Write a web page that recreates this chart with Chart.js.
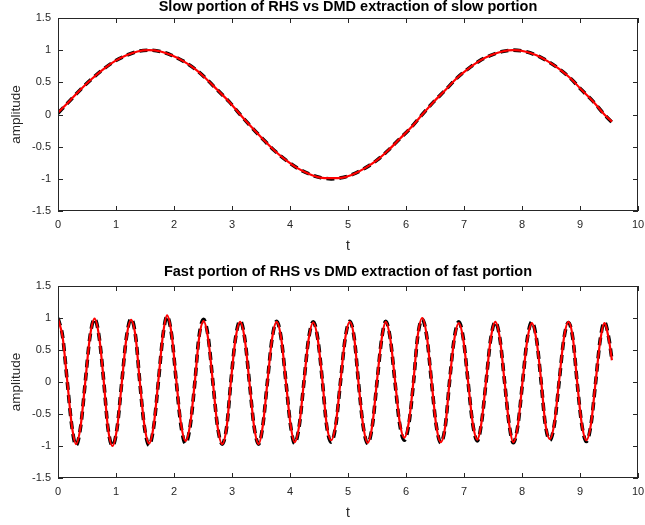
<!DOCTYPE html>
<html>
<head>
<meta charset="utf-8">
<script src="https://cdn.jsdelivr.net/npm/chart.js@4"></script>
<style>
  body { margin: 0; background: #fff; }
  #wrap { position: relative; width: 645px; height: 525px; }
  #wrap canvas { position: absolute; left: 0; }
</style>
</head>
<body>
<div id="wrap">
  <canvas id="slowChart" width="645" height="262" style="top:0"></canvas>
  <canvas id="fastChart" width="645" height="263" style="top:262px"></canvas>
</div>
<script>
// Waktu untuk bagian lambat
const tSlow = [0.00,0.20,0.39,0.59,0.79,0.98,1.18,1.37,1.57,1.77,1.96,2.16,2.36,2.55,2.75,2.95,3.14,3.34,3.53,3.73,
  3.93,4.12,4.32,4.52,4.71,4.91,5.11,5.30,5.50,5.69,5.89,6.09,6.28,6.48,6.68,6.87,7.07,7.26,7.46,7.66,
  7.85,8.05,8.25,8.44,8.64,8.84,9.03,9.23,9.42,9.55];

// RHS lambat (hitam putus-putus) dan hasil DMD (merah)
const slowTrue = [0.02,0.21,0.39,0.56,0.71,0.83,0.92,0.98,1.00,0.98,0.92,0.83,0.71,0.56,0.38,0.20,0.00,-0.20,-0.38,-0.56,
  -0.71,-0.83,-0.92,-0.98,-1.00,-0.98,-0.92,-0.83,-0.71,-0.56,-0.38,-0.20,0.00,0.20,0.38,0.56,0.71,0.83,0.92,0.98,
  1.00,0.98,0.92,0.83,0.71,0.56,0.38,0.20,0.00,-0.12];
const slowDmd = [0.03,0.21,0.39,0.56,0.71,0.83,0.92,0.98,1.00,0.98,0.92,0.83,0.71,0.56,0.38,0.20,0.00,-0.20,-0.38,-0.56,
  -0.71,-0.83,-0.92,-0.98,-0.99,-0.98,-0.92,-0.83,-0.71,-0.56,-0.38,-0.20,0.00,0.20,0.38,0.56,0.71,0.83,0.92,0.98,
  1.00,0.98,0.92,0.83,0.71,0.56,0.38,0.20,0.00,-0.11];

// Waktu untuk bagian cepat
const tFast = [0.00,0.08,0.16,0.24,0.31,0.39,0.47,0.55,0.63,0.71,0.79,0.86,0.94,1.02,1.10,1.18,1.26,1.34,1.41,1.49,
  1.57,1.65,1.73,1.81,1.88,1.96,2.04,2.12,2.20,2.28,2.36,2.43,2.51,2.59,2.67,2.75,2.83,2.91,2.98,3.06,
  3.14,3.22,3.30,3.38,3.46,3.53,3.61,3.69,3.77,3.85,3.93,4.01,4.08,4.16,4.24,4.32,4.40,4.48,4.56,4.63,
  4.71,4.79,4.87,4.95,5.03,5.11,5.18,5.26,5.34,5.42,5.50,5.58,5.65,5.73,5.81,5.89,5.97,6.05,6.13,6.20,
  6.28,6.36,6.44,6.52,6.60,6.68,6.75,6.83,6.91,6.99,7.07,7.15,7.23,7.30,7.38,7.46,7.54,7.62,7.70,7.78,
  7.85,7.93,8.01,8.09,8.17,8.25,8.33,8.40,8.48,8.56,8.64,8.72,8.80,8.88,8.95,9.03,9.11,9.19,9.27,9.35,
  9.42,9.50,9.55];

// RHS cepat (hitam putus-putus)
const fastTrue = [
  1.00,0.71,0.00,-0.70,-0.99,-0.70,0.00,0.70,
  0.99,0.70,0.00,-0.71,-1.00,-0.71,0.00,0.70,
  0.99,0.70,0.00,-0.70,-0.99,-0.70,0.00,0.73,
  1.03,0.73,0.00,-0.68,-0.96,-0.68,0.00,0.70,
  0.98,0.70,0.00,-0.69,-0.97,-0.69,0.00,0.68,
  0.96,0.68,0.00,-0.69,-0.97,-0.69,0.00,0.67,
  0.95,0.67,0.00,-0.68,-0.96,-0.68,0.00,0.67,
  0.94,0.67,0.00,-0.67,-0.94,-0.67,0.00,0.67,
  0.95,0.67,0.00,-0.68,-0.96,-0.68,0.00,0.67,
  0.95,0.67,0.00,-0.65,-0.91,-0.65,0.00,0.70,
  0.98,0.70,0.00,-0.67,-0.95,-0.67,0.00,0.67,
  0.94,0.67,0.00,-0.65,-0.92,-0.65,0.00,0.67,
  0.94,0.67,0.00,-0.67,-0.95,-0.67,0.00,0.67,
  0.94,0.67,0.00,-0.65,-0.91,-0.65,0.00,0.66,
  0.93,0.66,0.00,-0.66,-0.93,-0.66,0.00,0.67,
  0.94,0.67,0.35];

// Ekstraksi DMD bagian cepat (merah)
const fastDmd = [
  0.99,0.70,0.01,-0.69,-0.97,-0.69,0.00,0.70,
  0.99,0.70,0.00,-0.71,-1.00,-0.71,-0.01,0.69,
  0.97,0.69,0.01,-0.68,-0.96,-0.68,0.02,0.74,
  1.04,0.74,0.02,-0.65,-0.92,-0.65,0.01,0.67,
  0.95,0.67,0.00,-0.69,-0.97,-0.69,0.00,0.67,
  0.94,0.67,0.00,-0.69,-0.97,-0.69,-0.01,0.67,
  0.94,0.67,0.00,-0.67,-0.94,-0.67,0.00,0.66,
  0.93,0.66,0.01,-0.65,-0.91,-0.65,0.01,0.67,
  0.94,0.67,0.00,-0.67,-0.95,-0.67,0.02,0.67,
  0.94,0.67,0.03,-0.62,-0.87,-0.62,0.03,0.71,
  1.00,0.71,0.02,-0.67,-0.94,-0.67,0.00,0.65,
  0.92,0.65,0.01,-0.64,-0.90,-0.64,0.01,0.67,
  0.94,0.67,0.00,-0.67,-0.94,-0.67,0.01,0.65,
  0.92,0.65,0.02,-0.63,-0.89,-0.63,0.02,0.67,
  0.94,0.67,0.01,-0.65,-0.91,-0.65,0.01,0.65,
  0.92,0.65,0.34];

const textColor = '#262626';
Chart.defaults.font.family = "'Liberation Sans', Arial, Helvetica, sans-serif";
Chart.defaults.color = textColor;

const toPoints = (ts, ys) => ts.map((t, i) => ({ x: t, y: ys[i] }));

// Kotak ala MATLAB dengan tick ke dalam di keempat sisi
const matlabBox = {
  id: 'matlabBox',
  afterDatasetsDraw(chart) {
    const { ctx, chartArea: a, scales: { x, y } } = chart;
    const len = 5;
    ctx.save();
    ctx.strokeStyle = textColor;
    ctx.lineWidth = 1;
    ctx.beginPath();
    x.ticks.forEach(t => {
      const px = Math.round(x.getPixelForValue(t.value)) + 0.5;
      ctx.moveTo(px, a.bottom); ctx.lineTo(px, a.bottom - len);
      ctx.moveTo(px, a.top); ctx.lineTo(px, a.top + len);
    });
    y.ticks.forEach(t => {
      const py = Math.round(y.getPixelForValue(t.value)) + 0.5;
      ctx.moveTo(a.left, py); ctx.lineTo(a.left + len, py);
      ctx.moveTo(a.right, py); ctx.lineTo(a.right - len, py);
    });
    ctx.stroke();
    ctx.strokeRect(Math.round(a.left) + 0.5, Math.round(a.top) + 0.5,
      Math.round(a.width) - 1, Math.round(a.height) - 1);
    ctx.restore();
  }
};

function makeOptions(title, titlePad, bottomPad) {
  return {
    responsive: false,
    animation: false,
    layout: { padding: { left: 0, right: 7, top: 0, bottom: bottomPad } },
    plugins: {
      legend: { display: false },
      tooltip: { enabled: false },
      title: {
        display: true,
        fullSize: false,
        text: title,
        color: '#000',
        font: { size: 14.5, weight: 'bold', lineHeight: 1 },
        padding: titlePad
      }
    },
    elements: { point: { radius: 0 } },
    scales: {
      x: {
        type: 'linear', min: 0, max: 10,
        grid: { display: false, drawTicks: false },
        border: { display: false },
        ticks: { stepSize: 1, padding: 7, font: { size: 11 } },
        title: { display: true, text: 't', font: { size: 14 }, padding: { top: 0, bottom: 0 } },
        afterFit: s => { s.paddingRight = 0; }
      },
      y: {
        min: -1.5, max: 1.5,
        grid: { display: false, drawTicks: false },
        border: { display: false },
        ticks: { stepSize: 0.5, padding: 7, font: { size: 11 }, callback: v => String(v) },
        title: { display: true, text: 'amplitude', font: { size: 13.5 }, padding: { top: 8, bottom: 0 } },
        afterFit: s => { s.width = 58; }
      }
    }
  };
}

function makeDatasets(ts, yTrue, yDmd) {
  return [
    {
      label: 'DMD',
      data: toPoints(ts, yDmd),
      borderColor: '#ff0000',
      borderWidth: 2.2,
      cubicInterpolationMode: 'monotone',
      order: 0
    },
    {
      label: 'RHS',
      data: toPoints(ts, yTrue),
      borderColor: '#000000',
      borderWidth: 3.6,
      borderDash: [8, 5],
      cubicInterpolationMode: 'monotone',
      order: 1
    }
  ];
}

// 1) Bagian lambat
new Chart(document.getElementById('slowChart').getContext('2d'), {
  type: 'line',
  data: { datasets: makeDatasets(tSlow, slowTrue, slowDmd) },
  options: makeOptions('Slow portion of RHS vs DMD extraction of slow portion', { top: 0, bottom: 3.5 }, 7),
  plugins: [matlabBox]
});

// 2) Bagian cepat
new Chart(document.getElementById('fastChart').getContext('2d'), {
  type: 'line',
  data: { datasets: makeDatasets(tFast, fastTrue, fastDmd) },
  options: makeOptions('Fast portion of RHS vs DMD extraction of fast portion', { top: 3, bottom: 6.5 }, 3),
  plugins: [matlabBox]
});
</script>
</body>
</html>
